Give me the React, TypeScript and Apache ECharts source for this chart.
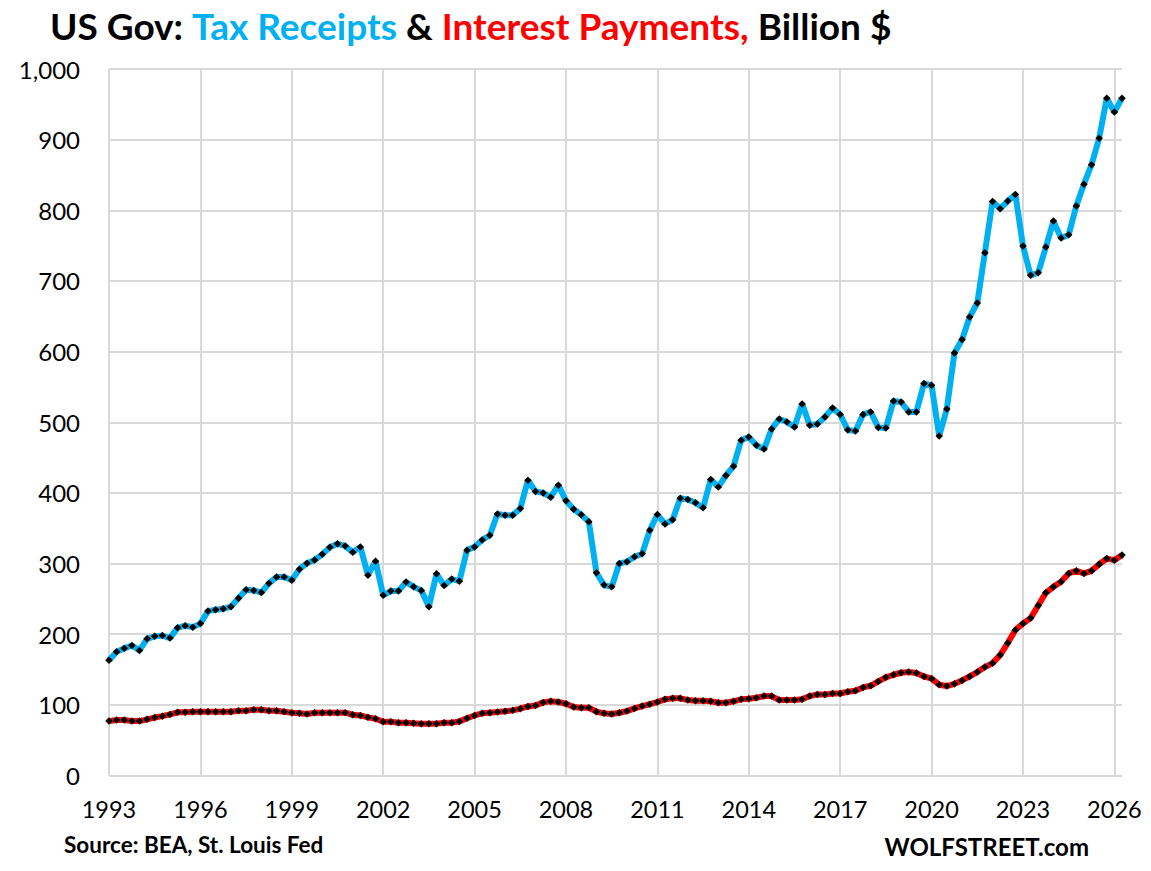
import React, { useEffect, useRef } from "react";
import * as echarts from "echarts";

const FONT = "Lato, 'Liberation Sans', Arial, sans-serif";

const TICK_YEARS = ["1993", "1996", "1999", "2002", "2005", "2008", "2011", "2014", "2017", "2020", "2023", "2026"];

// quarterly categories, first quarter of 1993 onward
const CATEGORIES = Array.from({ length: 134 }, (_, i) => `${1993 + Math.floor(i / 4)} Q${(i % 4) + 1}`);

const TAX_RECEIPTS = [
  163, 175, 180, 184, 177, 193.5, 197, 198, 194.5, 209,
  212, 210, 215, 232.7, 234.5, 236, 239, 251, 263, 262,
  259, 272, 281, 281, 276.5, 292, 300.5, 305, 313, 323,
  328, 325, 316, 323.6, 283.6, 303.4, 255, 261, 261, 274,
  267, 262, 239, 285.5, 269, 278, 275, 319, 323.6, 333.5,
  340, 370, 368.5, 368.5, 378, 418, 402, 400, 394, 411,
  389, 377, 369, 359, 287, 269.5, 267, 300, 302.4, 309.5,
  314, 347, 369.4, 356, 362, 392.5, 390.6, 386, 379, 419,
  408.5, 424.6, 437.8, 474.5, 479, 467.5, 462, 490.5, 504.7, 500.5,
  493.4, 526, 495.8, 497.6, 507.5, 520, 511, 489, 487.7, 511,
  514.6, 492.5, 492, 530, 528.7, 514.6, 514.6, 554.7, 552.3, 480.6,
  518.8, 598, 617, 649, 668.8, 740, 812.6, 802.3, 813, 822.5,
  749.4, 708, 711.7, 748, 784.7, 760.7, 765.5, 806, 837, 864.5,
  902, 958.7, 939, 958.7,
];

const INTEREST_PAYMENTS = [
  77, 78.5, 78.5, 77, 77, 79.5, 82, 84, 86.5, 89.4,
  89.4, 90.3, 90.3, 90.3, 90.3, 90.3, 90.3, 91.7, 91.7, 93,
  93, 91.7, 91.7, 90.3, 88.9, 88, 87, 88.9, 88.9, 88.9,
  88.9, 88.9, 86, 85, 82.3, 80.3, 76, 76, 74.7, 74.7,
  73.8, 73.4, 73.4, 73.4, 74.7, 74.7, 76.6, 81, 85, 88,
  88.9, 89.8, 90.8, 92.2, 94.5, 97.8, 99.2, 103.5, 105, 104,
  101.6, 96.9, 95.9, 95.9, 90.3, 88, 87, 88.9, 91.2, 95,
  98.3, 101, 104, 107.8, 109.2, 109.2, 106.8, 105.8, 105.8, 105,
  103, 103, 105, 107.8, 108.6, 110, 112.4, 112.4, 106.8, 106.8,
  106.8, 107.8, 112.4, 114.8, 114.8, 116, 116, 118.5, 120, 124.7,
  127, 133.2, 138.9, 142.6, 145.4, 146.4, 145, 140.3, 137, 128.5,
  126.6, 129.8, 134.6, 140.3, 146.4, 153.5, 159, 170.4, 187.4, 205.8,
  215.2, 222.8, 240.7, 258.6, 267, 274.2, 286, 289.7, 286, 289.7,
  299, 307, 304.8, 312,
];

const BLUE = "#00B0F0";
const RED = "#FF0000";
const GRID = "#D9D9D9";

export default function App() {
  const ref = useRef<HTMLDivElement>(null);

  useEffect(() => {
    if (!ref.current) return;
    const chart = echarts.init(ref.current, null, { renderer: "svg" });
    const tickEvery = (i: number) => i % 12 === 0;
    const titleStyle = { fontSize: 37, fontWeight: "bold", fontFamily: FONT };
    chart.setOption({
      animation: false,
      backgroundColor: "#ffffff",
      title: {
        text: "{k|US Gov: }{b|Tax Receipts}{k| & }{r|Interest Payments,}{k| Billion $}",
        left: 45,
        top: 2,
        textStyle: {
          rich: {
            k: { ...titleStyle, color: "#000" },
            b: { ...titleStyle, color: BLUE },
            r: { ...titleStyle, color: RED },
          },
        },
      },
      grid: { left: 109, right: 29, top: 69, bottom: 95.5, containLabel: false },
      xAxis: {
        type: "category",
        boundaryGap: false,
        data: CATEGORIES,
        axisLine: { show: false },
        axisTick: { show: false, interval: tickEvery },
        axisLabel: {
          interval: tickEvery,
          formatter: (_v: string, i: number) => (i % 12 === 0 ? TICK_YEARS[i / 12] : ""),
          fontSize: 23.5,
          fontFamily: FONT,
          color: "#000",
          margin: 21,
        },
        splitLine: { show: true, interval: tickEvery, lineStyle: { color: GRID, width: 2 } },
      },
      yAxis: {
        type: "value",
        min: 0,
        max: 1000,
        interval: 100,
        axisLine: { show: false },
        axisTick: { show: false },
        axisLabel: {
          formatter: (v: number) => v.toLocaleString("en-US"),
          fontSize: 24,
          fontFamily: FONT,
          color: "#000",
          margin: 29,
        },
        splitLine: { show: true, lineStyle: { color: GRID, width: 2 } },
      },
      series: [
        {
          name: "Tax Receipts",
          type: "line",
          data: TAX_RECEIPTS,
          lineStyle: { color: BLUE, width: 6 },
          symbol: "diamond",
          symbolSize: 7.5,
          showSymbol: true,
          showAllSymbol: true,
          itemStyle: { color: "#000" },
          z: 3,
        },
        {
          name: "Interest Payments",
          type: "line",
          data: INTEREST_PAYMENTS,
          lineStyle: { color: RED, width: 6 },
          symbol: "diamond",
          symbolSize: 7.5,
          showSymbol: true,
          showAllSymbol: true,
          itemStyle: { color: "#000" },
          z: 3,
        },
      ],
      graphic: [
        {
          type: "text",
          left: 64,
          top: 833,
          style: {
            text: "Source: BEA, St. Louis Fed",
            font: `bold 22.5px ${FONT}`,
            fill: "#000",
          },
        },
        {
          type: "text",
          right: 1151 - 1089,
          top: 834,
          style: {
            text: "WOLFSTREET.com",
            font: `bold 24px ${FONT}`,
            fill: "#000",
          },
        },
      ],
    });
    return () => chart.dispose();
  }, []);

  return (
    <div
      ref={ref}
      style={{ position: "fixed", left: 0, top: 0, width: 1151, height: 871, background: "#fff" }}
    />
  );
}
